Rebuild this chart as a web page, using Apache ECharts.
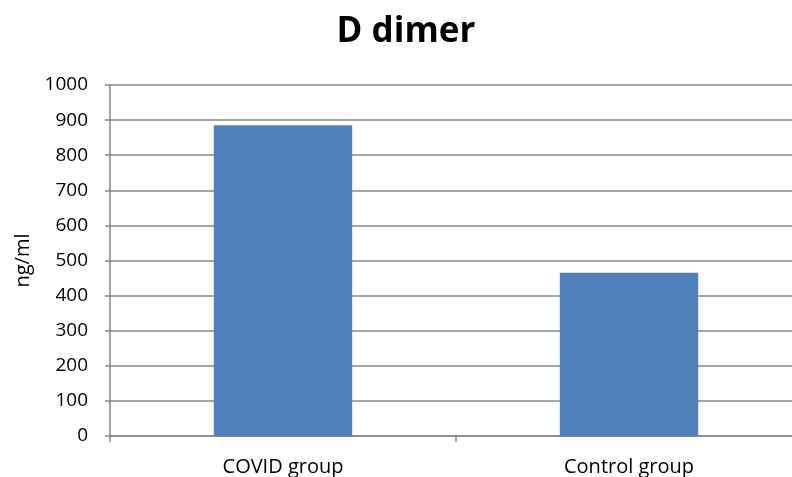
<!DOCTYPE html>
<html>
<head>
<meta charset="utf-8">
<script src="https://cdn.jsdelivr.net/npm/echarts@6/dist/echarts.min.js"></script>
<style>html,body{margin:0;padding:0;background:#fff;overflow:hidden;width:792px;height:477px}#c{width:802px;height:477px}</style>
</head>
<body>
<div id="c"></div>
<script>
var categories = ['COVID group', 'Control group'];
var values = [885, 465];
var yTicks = [0, 1000, 100];

var chart = echarts.init(document.getElementById('c'));
chart.setOption({
  animation: false,
  title: {
    text: 'D dimer', left: 401, textAlign: 'center', top: 10,
    textStyle: { fontFamily: 'Open Sans', fontSize: 35, fontWeight: 'bold', color: '#000' }
  },
  grid: { left: 110, top: 85, right: 0, bottom: 40, containLabel: false },
  xAxis: {
    type: 'category', data: categories,
    axisLine: { lineStyle: { color: '#868686', width: 1.5 } },
    axisTick: { show: true, alignWithLabel: false, length: 6, lineStyle: { color: '#868686', width: 1.5 } },
    axisLabel: { color: '#000', fontFamily: 'Open Sans', fontSize: 20, margin: 21 }
  },
  yAxis: {
    type: 'value', min: yTicks[0], max: yTicks[1], interval: yTicks[2],
    name: 'ng/ml', nameLocation: 'middle', nameGap: 73,
    nameTextStyle: { color: '#000', fontFamily: 'Open Sans', fontSize: 20 },
    axisLine: { show: true, lineStyle: { color: '#868686', width: 1.5 } },
    axisTick: { show: true, length: 5, lineStyle: { color: '#868686', width: 1.5 } },
    axisLabel: { color: '#000', fontFamily: 'Open Sans', fontSize: 19, margin: 22, formatter: function (v) { return String(v); } },
    splitLine: { lineStyle: { color: '#868686', width: 1.5 } }
  },
  series: [{
    type: 'bar', data: values, barWidth: '40%',
    itemStyle: { color: '#4F81BD' }
  }]
});
</script>
</body>
</html>
